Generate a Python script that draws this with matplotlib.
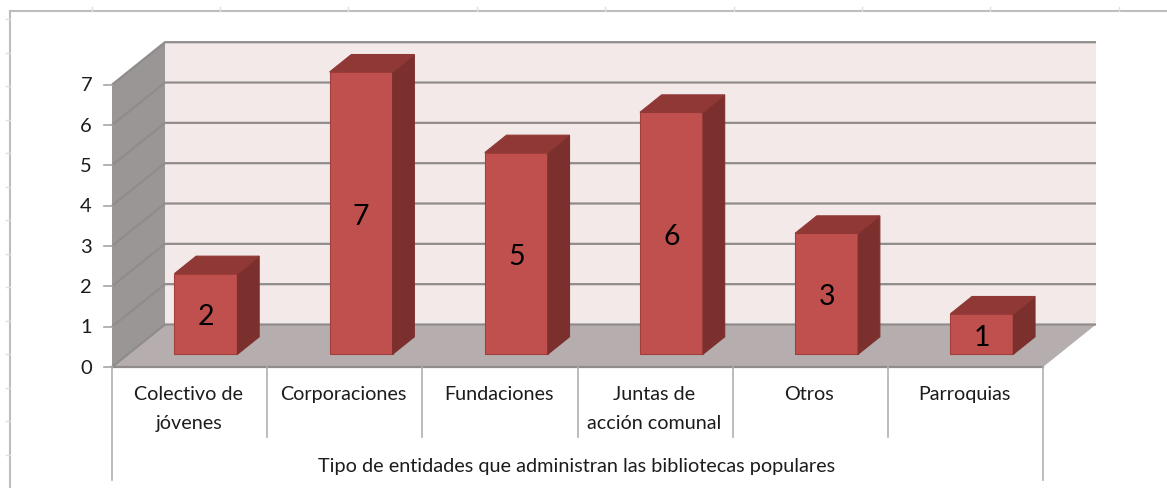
import matplotlib
matplotlib.use('Agg')
import matplotlib.pyplot as plt
from matplotlib.patches import Polygon

categories = ['Colectivo de\njóvenes', 'Corporaciones', 'Fundaciones',
              'Juntas de\nacción comunal', 'Otros', 'Parroquias']
values = [2, 7, 5, 6, 3, 1]
y_ticks = [0, 1, 2, 3, 4, 5, 6, 7]
x_title = 'Tipo de entidades que administran las bibliotecas populares'

W, H = 1167, 489
x0_px, y0_px = 112, 368    # where category 0 / value 0 sit on the front edge
cat_px, unit_px = 155.17, 40.33
depth_x, depth_y = 53 / cat_px, 42.5 / unit_px   # oblique shift of the full depth

bar_w = 0.406
bar_margin = 0.30
bar_front, bar_back = 0.30, 0.71

plt.rcParams['font.family'] = ['Lato', 'DejaVu Sans']

fig = plt.figure(figsize=(W / 100, H / 100), dpi=100)
ax = fig.add_axes([0, 0, 1, 1])
ax.set_xlim(-x0_px / cat_px, (W - x0_px) / cat_px)
ax.set_ylim((y0_px - H) / unit_px, y0_px / unit_px)
ax.axis('off')

n = len(categories)
top = max(y_ticks)


def proj(x, v, d=0):
    return (x + d * depth_x, v + d * depth_y)


def face(pts, color, edge='none', z=1, lw=0.8):
    ax.add_patch(Polygon([proj(*p) for p in pts], closed=True, facecolor=color,
                         edgecolor=edge, linewidth=lw, zorder=z))


# walls and floor
face([(0, 0, 1), (n, 0, 1), (n, top, 1), (0, top, 1)], '#f4e9e9')
face([(0, 0, 0), (0, 0, 1), (0, top, 1), (0, top, 0)], '#9a9695')
face([(0, 0, 0), (n, 0, 0), (n, 0, 1), (0, 0, 1)], '#b6aeae')

# gridlines, running along the side wall and the back wall
for v in y_ticks:
    xs, ys = zip(proj(0, v, 0), proj(0, v, 1), proj(n, v, 1))
    ax.plot(xs, ys, color='#8f8c8b', lw=1.6, zorder=2, solid_capstyle='butt')
    xs, ys = zip(proj(-8 / cat_px, v), proj(0, v))
    ax.plot(xs, ys, color='#a6a6a6', lw=1.2, zorder=2)
    ax.text(-20 / cat_px, v, str(v), ha='right', va='center', fontsize=14.5,
            color='#1c1c1c')

# bars
for i, val in enumerate(values):
    l = i + bar_margin
    r = l + bar_w
    f, b = bar_front, bar_back
    face([(l, 0, f), (r, 0, f), (r, val, f), (l, val, f)], '#c0504d',
         edge='#a23f3c', z=3)
    face([(r, 0, f), (r, 0, b), (r, val, b), (r, val, f)], '#7c302e',
         edge='#7c302e', z=3)
    face([(l, val, f), (r, val, f), (r, val, b), (l, val, b)], '#8f3836',
         edge='#8f3836', z=3)
    cx, cy = proj((l + r) / 2, val / 2, f)
    ax.text(cx, cy - 2.5 / unit_px, str(val), ha='center', va='center', fontsize=20.5,
            color='black', zorder=4)

# category axis, multi level
label_bottom = -70 / unit_px
outer_bottom = -113 / unit_px
ax.plot([0, n], [0, 0], color='#8f8c8b', lw=1.6, zorder=2)
for i in range(n + 1):
    low = outer_bottom if i in (0, n) else label_bottom
    ax.plot([i, i], [0, low], color='#b0b0b0', lw=1.2, zorder=2)
for i, c in enumerate(categories):
    ax.text(i + 0.5 - 1 / cat_px, -18 / unit_px, c, ha='center', va='top', fontsize=14.2,
            color='#1c1c1c', linespacing=1.85)
ax.text(n / 2 - 0.5 / cat_px, -99 / unit_px, x_title, ha='center', va='center', fontsize=14.35,
        color='#1c1c1c')

# outer frame of the pasted chart and the ruler ticks around it
frame = dict(color='#bdbdbd', lw=1.5, transform=fig.transFigure)
fig.add_artist(plt.Line2D([10 / W, 1], [1 - 12 / H, 1 - 12 / H], **frame))
fig.add_artist(plt.Line2D([10 / W, 10 / W], [0, 1 - 12 / H], **frame))
tick = dict(color='#dedede', lw=1, transform=fig.transFigure)
for k in range(9):
    x = (91.5 + 128.4 * k) / W
    fig.add_artist(plt.Line2D([x, x], [1 - 8 / H, 1 - 12 / H], **tick))
for k in range(14):
    y = 1 - (20 + 33.5 * k) / H
    fig.add_artist(plt.Line2D([6 / W, 10 / W], [y, y], **tick))

fig.savefig('out.png', dpi=100, facecolor='white')
